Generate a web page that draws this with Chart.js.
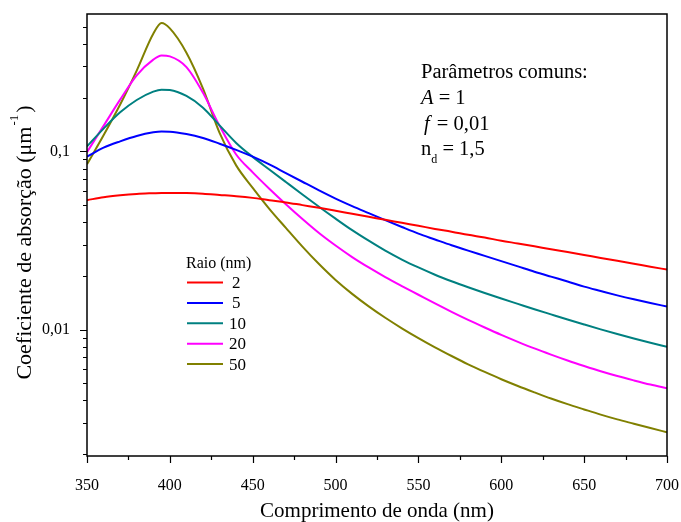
<!DOCTYPE html>
<html lang="pt">
<head>
<meta charset="UTF-8">
<title>Coeficiente de absorção</title>
<script src="https://cdn.jsdelivr.net/npm/chart.js@4.4.1/dist/chart.umd.min.js"></script>
<style>
  body { margin: 0; background: #fff; }
</style>
</head>
<body>
<canvas id="absChart" width="681" height="522"></canvas>
<script>
// comprimento de onda (nm)
const wavelength = [350, 360, 370, 380, 390, 395, 400, 410, 420, 430, 440, 450, 460, 470, 480, 490, 500,
                    510, 520, 530, 540, 550, 560, 570, 580, 590, 600, 610, 620, 630, 640, 650, 660, 670, 680, 690, 700];

// coeficiente de absorção (um^-1) para cada raio
const raio2  = [0.0532, 0.0553, 0.0567, 0.0577, 0.0582, 0.0584, 0.0584, 0.0583, 0.0578, 0.0569, 0.0560, 0.0548, 0.0532, 0.0517, 0.0499, 0.0482, 0.0464,
                0.0446, 0.0429, 0.0413, 0.0397, 0.0382, 0.0367, 0.0354, 0.0340, 0.0328, 0.0315, 0.0304, 0.0293, 0.0282, 0.0272, 0.0262, 0.0252, 0.0243, 0.0234, 0.0225, 0.0217];
const raio5  = [0.0934, 0.1049, 0.1138, 0.1220, 0.1278, 0.1292, 0.1290, 0.1252, 0.1189, 0.1104, 0.1019, 0.0933, 0.0845, 0.0755, 0.0675, 0.0604, 0.0543,
                0.0493, 0.0450, 0.0411, 0.0376, 0.0345, 0.0320, 0.0297, 0.0277, 0.0259, 0.0242, 0.0226, 0.0211, 0.0198, 0.0186, 0.0174, 0.01644, 0.01555, 0.01477, 0.01408, 0.01346];
const raio10 = [0.1066, 0.1341, 0.1655, 0.1942, 0.2162, 0.2220, 0.2210, 0.2045, 0.1758, 0.1399, 0.1115, 0.0931, 0.0791, 0.0673, 0.0573, 0.0489, 0.0419,
                0.0361, 0.0315, 0.0277, 0.0247, 0.0223, 0.0203, 0.01866, 0.01726, 0.01603, 0.01493, 0.01393, 0.01300, 0.01216, 0.01138, 0.01067, 0.01002, 0.00944, 0.00891, 0.00843, 0.00800];
const raio20 = [0.0990, 0.139, 0.195, 0.267, 0.327, 0.345, 0.341, 0.297, 0.213, 0.139, 0.0960, 0.0762, 0.0617, 0.0505, 0.0417, 0.0348, 0.0296,
                0.0255, 0.0223, 0.0197, 0.01754, 0.01567, 0.0140, 0.01256, 0.01132, 0.01026, 0.00933, 0.00853, 0.00783, 0.00723, 0.00670, 0.00624, 0.00583, 0.00548, 0.00518, 0.00491, 0.00468];
const raio50 = [0.0846, 0.123, 0.183, 0.284, 0.457, 0.525, 0.490, 0.358, 0.225, 0.127, 0.0834, 0.0624, 0.0476, 0.0372, 0.0292, 0.0233, 0.01897,
                0.01585, 0.01349, 0.01164, 0.01016, 0.00895, 0.00794, 0.00710, 0.00638, 0.00578, 0.00526, 0.00482, 0.00444, 0.00410, 0.00381, 0.00356, 0.00333, 0.00313, 0.00296, 0.00280, 0.00265];

const raioLabels = ['2', '5', '10', '20', '50'];

// ticks
const xTicks = [350, 400, 450, 500, 550, 600, 650, 700];
const xMinorTicks = [375, 425, 475, 525, 575, 625, 675];
const yTicks = [0.002, 0.003, 0.004, 0.005, 0.006, 0.007, 0.008, 0.009, 0.01, 0.02, 0.03, 0.04, 0.05, 0.06, 0.07, 0.08, 0.09, 0.1, 0.2, 0.3, 0.4, 0.5];
const yTickLabels = { 0.01: '0,01', 0.1: '0,1' };

const serif = "'Liberation Serif', 'Times New Roman', serif";
const colors = ['#ff0000', '#0000ff', '#008080', '#ff00ff', '#808000'];
const series = [raio2, raio5, raio10, raio20, raio50];

function toPoints(vals) {
    return wavelength.map((w, i) => ({ x: w, y: vals[i] }));
}

// frame, tick marks, titles, legend and parameter text
const decorations = {
    id: 'decorations',
    afterDraw(chart) {
        const ctx = chart.ctx;
        const a = chart.chartArea;
        const xs = chart.scales.x, ys = chart.scales.y;
        ctx.save();
        ctx.strokeStyle = '#000';
        ctx.lineWidth = 1.5;
        ctx.strokeRect(a.left, a.top, a.right - a.left, a.bottom - a.top);

        ctx.lineWidth = 1.2;
        ctx.beginPath();
        xTicks.forEach(v => {
            const px = Math.round(xs.getPixelForValue(v)) + 0.5;
            ctx.moveTo(px, a.bottom); ctx.lineTo(px, a.bottom + 7);
        });
        xMinorTicks.forEach(v => {
            const px = Math.round(xs.getPixelForValue(v)) + 0.5;
            ctx.moveTo(px, a.bottom); ctx.lineTo(px, a.bottom + 4);
        });
        yTicks.forEach(v => {
            const py = Math.round(ys.getPixelForValue(v)) + 0.5;
            const len = yTickLabels[v] ? 7 : 4;
            ctx.moveTo(a.left, py); ctx.lineTo(a.left - len, py);
        });
        ctx.stroke();

        ctx.fillStyle = '#000';
        // x title
        ctx.font = '21px ' + serif;
        ctx.textAlign = 'center';
        ctx.textBaseline = 'middle';
        ctx.fillText('Comprimento de onda (nm)', (a.left + a.right) / 2, 511);

        // y title with superscript
        ctx.save();
        ctx.translate(25, 243);
        ctx.rotate(-Math.PI / 2);
        ctx.textAlign = 'left';
        const main = 'Coeficiente de absorção (μm';
        ctx.font = '22px ' + serif;
        const wMain = ctx.measureText(main).width;
        const wClose = ctx.measureText(')').width;
        ctx.font = '13px ' + serif;
        const wSup = ctx.measureText('-1').width + 2;
        let px = -(wMain + wSup + wClose) / 2;
        ctx.font = '22px ' + serif;
        ctx.fillText(main, px, 0);
        px += wMain + 1;
        ctx.font = '13px ' + serif;
        ctx.fillText('-1', px, -10);
        px += wSup;
        ctx.font = '22px ' + serif;
        ctx.fillText(')', px, 0);
        ctx.restore();

        // parameters
        ctx.textAlign = 'left';
        ctx.textBaseline = 'alphabetic';
        let tx = 421;
        ctx.font = '20.5px ' + serif;
        ctx.fillText('Parâmetros comuns:', tx, 78);
        ctx.font = 'italic 20.5px ' + serif;
        ctx.fillText('A', tx, 104);
        let w = ctx.measureText('A').width;
        ctx.font = '20.5px ' + serif;
        ctx.fillText(' = 1', tx + w, 104);
        ctx.font = 'italic 20.5px ' + serif;
        ctx.fillText('f', tx + 3, 130);
        w = ctx.measureText('f').width + 3;
        ctx.font = '20.5px ' + serif;
        ctx.fillText(' = 0,01', tx + w + 2, 130);
        ctx.fillText('n', tx, 155);
        w = ctx.measureText('n').width;
        ctx.font = '12px ' + serif;
        ctx.fillText('d', tx + w, 163);
        ctx.font = '20.5px ' + serif;
        ctx.fillText(' = 1,5', tx + w + 6, 155);

        // legend
        ctx.font = '16px ' + serif;
        ctx.fillText('Raio (nm)', 186, 268);
        ctx.font = '17px ' + serif;
        ctx.textBaseline = 'middle';
        chart.data.datasets.forEach((ds, i) => {
            const ly = 282.5 + i * 20.4;
            ctx.strokeStyle = ds.borderColor;
            ctx.lineWidth = 2;
            ctx.beginPath();
            ctx.moveTo(187, ly); ctx.lineTo(223, ly);
            ctx.stroke();
            ctx.fillText(ds.label, ds.label.length === 1 ? 232 : 229, ly + 1);
        });
        ctx.restore();
    }
};

new Chart(document.getElementById('absChart'), {
    type: 'line',
    data: {
        datasets: series.map((s, i) => ({
            label: raioLabels[i],
            data: toPoints(s),
            borderColor: colors[i],
            borderWidth: 2,
            pointRadius: 0,
            cubicInterpolationMode: 'monotone',
            fill: false
        }))
    },
    options: {
        responsive: false,
        animation: false,
        layout: { padding: { left: 0, right: 14, top: 14, bottom: 0 } },
        plugins: { legend: { display: false }, tooltip: { enabled: false } },
        scales: {
            x: {
                type: 'linear',
                min: 350,
                max: 700,
                grid: { display: false },
                border: { display: false },
                afterBuildTicks: s => { s.ticks = xTicks.map(v => ({ value: v })); },
                afterFit: s => { s.height = 66; s.paddingLeft = 0; s.paddingRight = 0; },
                ticks: {
                    color: '#000',
                    font: { family: serif, size: 16 },
                    padding: 12,
                    maxRotation: 0
                }
            },
            y: {
                type: 'logarithmic',
                min: 0.00195,
                max: 0.59,
                grid: { display: false },
                border: { display: false },
                afterBuildTicks: s => { s.ticks = yTicks.map(v => ({ value: v })); },
                afterFit: s => { s.width = 87; s.paddingTop = 0; s.paddingBottom = 0; },
                ticks: {
                    color: '#000',
                    font: { family: serif, size: 16 },
                    padding: 9,
                    autoSkip: false,
                    callback: v => yTickLabels[v] || ''
                }
            }
        }
    },
    plugins: [decorations]
});
</script>
</body>
</html>
